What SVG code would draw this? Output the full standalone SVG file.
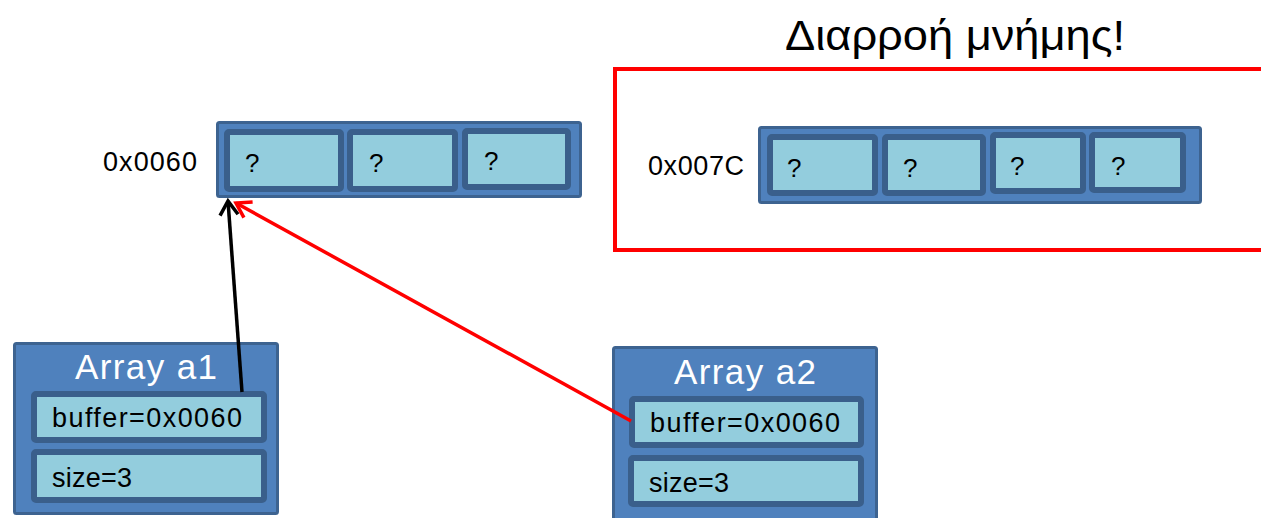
<svg xmlns="http://www.w3.org/2000/svg" width="1261" height="518" viewBox="0 0 1261 518">
<style>
.box{fill:#4F81BD;stroke:#3D6390;stroke-width:3}
.cell{fill:#93CDDD;stroke:#3A5F8B;stroke-width:6}
.t{font-family:"Liberation Sans","Open Sans",sans-serif;fill:#000}
.q{font-size:26px}
.lbl{font-size:27px}
.fld{font-size:27px}
.ttl{font-size:35px;fill:#fff;text-anchor:middle}
</style>
<defs>
<marker id="ab" markerUnits="userSpaceOnUse" markerWidth="24" markerHeight="24" refX="20" refY="12" orient="auto" viewBox="0 0 24 24">
<path d="M6,3 L20,12 L6,21" fill="none" stroke="#000" stroke-width="3.5"/>
</marker>
<marker id="ar" markerUnits="userSpaceOnUse" markerWidth="24" markerHeight="24" refX="20" refY="12" orient="auto" viewBox="0 0 24 24">
<path d="M6,3 L20,12 L6,21" fill="none" stroke="#F00" stroke-width="3.5"/>
</marker>
</defs>
<rect width="1261" height="518" fill="#fff"/>
<text class="t" x="785" y="50" font-size="43" textLength="340" lengthAdjust="spacingAndGlyphs">Διαρροή μνήμης!</text>
<g id="leak">
<rect x="615" y="69" width="700" height="181" fill="none" stroke="#F00" stroke-width="4"/>
</g>
<g id="buf1">
<text class="t lbl" x="103" y="171" textLength="94">0x0060</text>
<rect class="box" x="217.5" y="122.5" width="363" height="74" rx="2"/>
<rect class="cell" x="227" y="132" width="114" height="57" rx="2"/>
<rect class="cell" x="350" y="132" width="105" height="57" rx="2"/>
<rect class="cell" x="465" y="131" width="103" height="56" rx="2"/>
<text class="t q" x="245" y="172">?</text>
<text class="t q" x="369" y="172">?</text>
<text class="t q" x="484" y="170">?</text>
</g>
<g id="buf2">
<text class="t lbl" x="648" y="175" textLength="96">0x007C</text>
<rect class="box" x="759.5" y="127.5" width="441" height="75" rx="2"/>
<rect class="cell" x="770" y="137" width="105" height="56" rx="2"/>
<rect class="cell" x="885" y="137" width="98" height="56" rx="2"/>
<rect class="cell" x="993" y="135" width="90" height="56" rx="2"/>
<rect class="cell" x="1092" y="135" width="91" height="55" rx="2"/>
<text class="t q" x="787" y="177">?</text>
<text class="t q" x="903" y="177">?</text>
<text class="t q" x="1010" y="175">?</text>
<text class="t q" x="1111" y="175">?</text>
</g>
<g id="a1">
<rect class="box" x="14.5" y="343.5" width="263" height="170" rx="2"/>
<text class="t ttl" x="146" y="379" textLength="142">Array a1</text>
<rect class="cell" x="34" y="394" width="230" height="46" rx="2"/>
<text class="t fld" x="52" y="427" textLength="190">buffer=0x0060</text>
<rect class="cell" x="34" y="452" width="230" height="48" rx="2"/>
<text class="t fld" x="52" y="487" textLength="80">size=3</text>
</g>
<g id="a2">
<rect class="box" x="613.5" y="347.5" width="263" height="175" rx="2"/>
<text class="t ttl" x="745" y="384" textLength="142">Array a2</text>
<rect class="cell" x="632" y="399" width="229" height="46" rx="2"/>
<text class="t fld" x="650" y="432" textLength="190">buffer=0x0060</text>
<rect class="cell" x="631" y="458" width="230" height="46" rx="2"/>
<text class="t fld" x="649" y="492" textLength="80">size=3</text>
</g>
<g id="connectors">
<line x1="242" y1="392" x2="228" y2="201" stroke="#000" stroke-width="3.5" marker-end="url(#ab)"/>
<line x1="631" y1="421" x2="236" y2="203" stroke="#F00" stroke-width="3.5" marker-end="url(#ar)"/>
</g>
</svg>
